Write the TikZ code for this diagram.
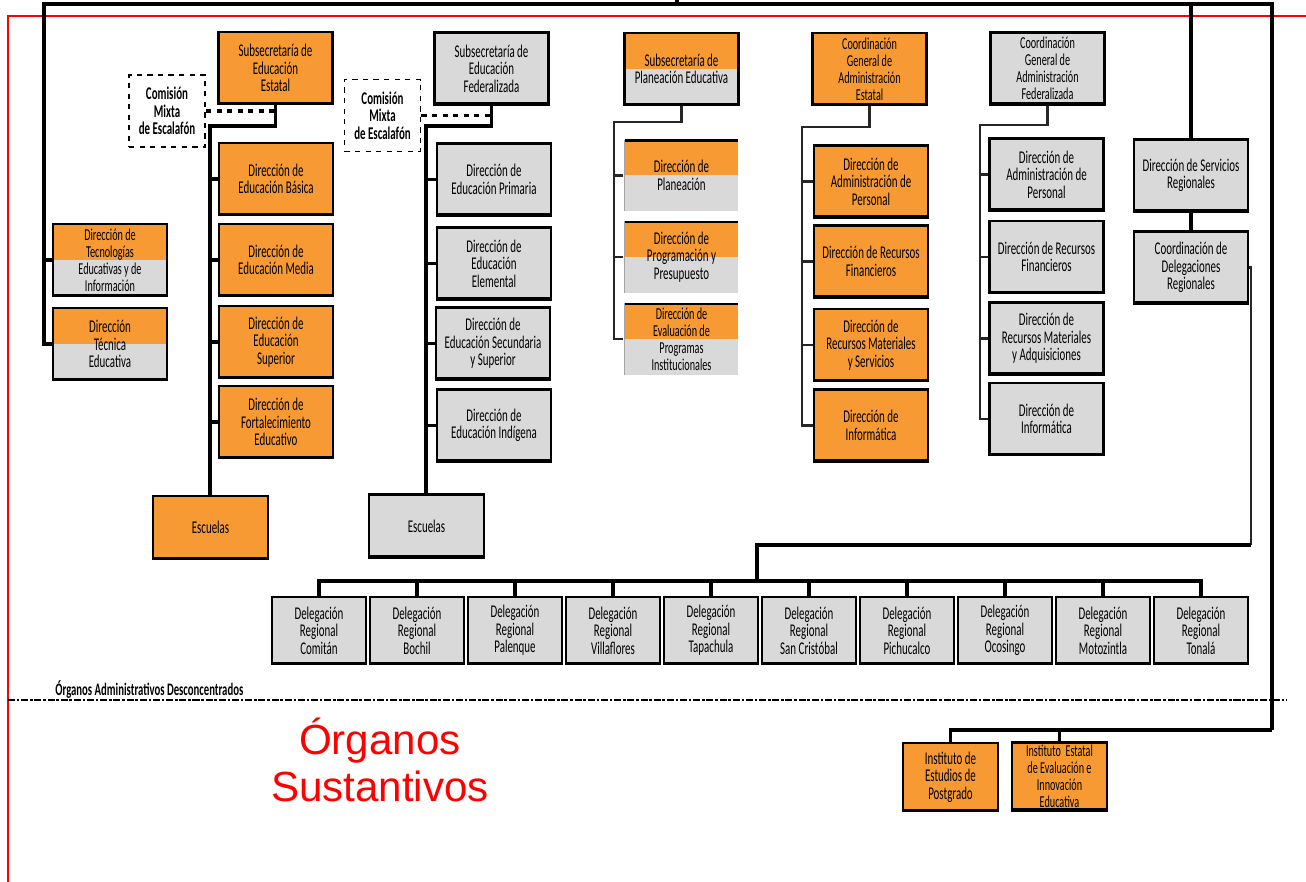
\documentclass[tikz,border=0pt]{standalone}
\usepackage{fontspec}
\newfontfamily\orgfont[FakeStretch=0.61]{Carlito}
\newfontfamily\redfont{Liberation Sans}
\definecolor{orgorange}{RGB}{247,154,51}
\colorlet{fedgray}{gray!30}
\begin{document}
\begin{tikzpicture}[x=0.02cm, y=-0.02cm,
		conn/.style={line width=1.9pt},
		softconn/.style={line width=1.4pt, draw=black!85},
		unit/.style={rectangle, draw=black, line width=1.3pt, inner sep=1pt, align=center, minimum width=2.28cm, minimum height=1.44cm, font=\orgfont\fontsize{10.2}{10}\selectfont,
			path picture={\draw[line width=2.4pt] (path picture bounding box.south west) -- (path picture bounding box.south east);}},
		estatal/.style={unit, fill=orgorange},
		federal/.style={unit, fill=fedgray},
		mixed/.style={unit, fill=orgorange,
			path picture={\fill[fedgray] (path picture bounding box.west) rectangle (path picture bounding box.south east);
				\draw[line width=2.4pt] (path picture bounding box.south west) -- (path picture bounding box.south east);}},
		openmixed/.style={unit, fill=orgorange, draw=none,
			path picture={\fill[fedgray] (path picture bounding box.west) rectangle (path picture bounding box.south east);
				\draw[line width=2.6pt] (path picture bounding box.north west) -- (path picture bounding box.north east);
				\draw[line width=0.8pt] (path picture bounding box.north west) -- (path picture bounding box.south west);}},
		fourline/.style={font=\orgfont\fontsize{9.5}{9.6}\selectfont},
		comision/.style={rectangle, draw=black, dashed, line width=1.1pt, fill=white, align=center, minimum width=1.52cm, minimum height=1.44cm, inner sep=1pt, font=\orgfont\bfseries\fontsize{10.2}{10}\selectfont},
		escuela/.style={minimum width=2.3cm, minimum height=1.26cm},
		delbox/.style={federal, minimum width=1.88cm, minimum height=1.34cm},
		instituto/.style={estatal, minimum width=1.9cm, minimum height=1.36cm},
		sepline/.style={line width=0.9pt, dash pattern=on 4pt off 1pt on 1.5pt off 1pt}]
		\useasboundingbox (0,0) rectangle (1306,882);

		% frame points
		\coordinate (redTR) at (1306,16);
		\coordinate (redTL) at (8,16);
		\coordinate (redBL) at (8,882);
		\coordinate (rootIn) at (677,0);
		\coordinate (topL) at (44,4);
		\coordinate (topR) at (1272,4);
		\coordinate (botR) at (1272,730);
		\coordinate (sepL) at (8,700);
		\coordinate (sepR) at (1287,700);

		% elbows of the columns
		\coordinate (estTop) at (210,126);
		\coordinate (fedTop) at (426,126);
		\coordinate (planTop) at (614,122);
		\coordinate (adminTop) at (802,127);
		\coordinate (afedTop) at (980,125);
		\coordinate (delBend) at (1251,545);
		\coordinate (delHub) at (757,581);

		\draw[red, line width=1.3pt] (redTR) -- (redTL) -- (redBL);

		% educacion estatal
		\node[estatal](subEst) at (275.5,68){Subsecretaría de\\Educación\\Estatal};
		\node[comision](comEst) at (167,111){Comisión\\Mixta\\de Escalafón};
		\node[estatal](basica) at (276,179){Dirección de\\Educación Básica};
		\node[estatal](media) at (276,260){Dirección de\\Educación Media};
		\node[estatal](superior) at (276,342){Dirección de\\Educación\\Superior};
		\node[estatal](fortal) at (276,422){Dirección de\\Fortalecimiento\\Educativo};
		\node[estatal, escuela](escEst) at (210.5,527.5){Escuelas};

		\node[mixed, fourline](tecno) at (110,260){Dirección de\\Tecnologías\\Educativas y de\\Información};
		\node[mixed](tecnica) at (110,344){Dirección\\Técnica\\Educativa};

		% educacion federalizada
		\node[federal](subFed) at (491.5,68.5){Subsecretaría de\\Educación\\Federalizada};
		\node[comision](comFed) at (382.5,115.5){Comisión\\Mixta\\de Escalafón};
		\node[federal](primaria) at (494,179.5){Dirección de\\Educación Primaria};
		\node[federal](elemental) at (494,263.5){Dirección de\\Educación\\Elemental};
		\node[federal](secundaria) at (493,343.5){Dirección de\\Educación Secundaria\\y Superior};
		\node[federal](indigena) at (494,425.5){Dirección de\\Educación Indígena};
		\node[federal, escuela](escFed) at (426.5,526){Escuelas};

		% planeacion
		\node[mixed](subPlan) at (681.5,69){Subsecretaría de\\Planeación Educativa};
		\node[openmixed](planeacion) at (681.5,175.5){Dirección de\\Planeación};
		\node[openmixed](programacion) at (681.5,257){Dirección de\\Programación y\\Presupuesto};
		\node[openmixed, fourline](evaluacion) at (681.5,339){Dirección de\\Evaluación de\\Programas\\Institucionales};

		% administracion estatal
		\node[estatal, fourline](coordEst) at (869.5,69){Coordinación\\General de\\Administración\\Estatal};
		\node[estatal](personalEst) at (871,181.5){Dirección de\\Administración de\\Personal};
		\node[estatal](financEst) at (871,261.5){Dirección de Recursos\\Financieros};
		\node[estatal](materEst) at (871,345){Dirección de\\Recursos Materiales\\y Servicios};
		\node[estatal](informEst) at (871,425.5){Dirección de\\Informática};

		% administracion federalizada
		\node[federal, fourline](coordFed) at (1047.5,68.5){Coordinación\\General de\\Administración\\Federalizada};
		\node[federal](personalFed) at (1046.5,174.5){Dirección de\\Administración de\\Personal};
		\node[federal](financFed) at (1046.5,257){Dirección de Recursos\\Financieros};
		\node[federal](materFed) at (1046.5,338.5){Dirección de\\Recursos Materiales\\y Adquisiciones};
		\node[federal](informFed) at (1046.5,419){Dirección de\\Informática};

		% servicios regionales
		\node[federal](servicios) at (1191,175.5){Dirección de Servicios\\Regionales};
		\node[federal](delegaciones) at (1191,267.5){Coordinación de\\Delegaciones\\Regionales};

		\foreach \city [count=\i from 0] in {Comitán, Bochil, Palenque, Villaflores, Tapachula, San Cristóbal, Pichucalco, Ocosingo, Motozintla, Tonalá}
			\node[delbox](del\i) at (319+98*\i,630.5){Delegación\\Regional\\\city};

		% institutos
		\node[instituto](postgrado) at (950.5,777){Instituto de\\Estudios de\\Postgrado};
		\node[instituto, fourline](evalEdu) at (1059.5,776.5){Instituto~ Estatal\\de Evaluación e\\Innovación\\Educativa};

		\node[anchor=west, inner sep=0pt, font=\orgfont\bfseries\fontsize{10}{10}\selectfont](desconc) at (55,690){Órganos Administrativos Desconcentrados};
		\node[text=red, align=center, font=\redfont\fontsize{24}{27}\selectfont](sustantivos) at (380,760){Órganos\\Sustantivos};

		% draw frame
		\draw[conn] (tecnica.west) -| (topL) -- (topR) -- (botR);
		\draw[conn] (tecno.west) -- (tecno.west -| topL);
		\draw[conn] (rootIn) -- (rootIn |- topL);
		\draw[conn] (servicios.north) -- (servicios.north |- topR);
		\draw[sepline] (sepL) -- (sepR);

		% draw column edges
		\draw[conn] (subEst.south) |- (estTop) -- (estTop |- escEst.north);
		\foreach \n in {basica,media,superior,fortal}
			\draw[conn] (\n.west) -- (\n.west -| estTop);
		\draw[conn, dashed] (comEst.east) -- (comEst.east -| subEst.south);

		\draw[conn] (subFed.south) |- (fedTop) -- (fedTop |- escFed.north);
		\foreach \n in {primaria,elemental,secundaria,indigena}
			\draw[conn] (\n.west) -- (\n.west -| fedTop);
		\draw[conn, dashed] (comFed.east) -- (comFed.east -| subFed.south);

		\draw[softconn] (subPlan.south) |- (planTop) -- (planTop |- evaluacion.west) -- (evaluacion.west);
		\foreach \n in {planeacion,programacion}
			\draw[softconn] (\n.west) -- (\n.west -| planTop);

		\draw[softconn] (coordEst.south) |- (adminTop) -- (adminTop |- informEst.west) -- (informEst.west);
		\foreach \n in {personalEst,financEst,materEst}
			\draw[softconn] (\n.west) -- (\n.west -| adminTop);

		\draw[softconn] (coordFed.south) |- (afedTop) -- (afedTop |- informFed.west) -- (informFed.west);
		\foreach \n in {personalFed,financFed,materFed}
			\draw[softconn] (\n.west) -- (\n.west -| afedTop);

		% draw delegation edges
		\draw[conn] (servicios.south) -- (delegaciones.north);
		\draw[softconn] (delegaciones.east) -| (delBend);
		\draw[conn] (delBend) -| (delHub);
		\foreach \i in {0,...,9}
			\draw[conn] (del\i.north) |- (delHub);

		% draw institute edges
		\draw[conn] (postgrado.north) |- (botR);
		\draw[conn] (evalEdu.north) |- (botR);

	\end{tikzpicture}
\end{document}
